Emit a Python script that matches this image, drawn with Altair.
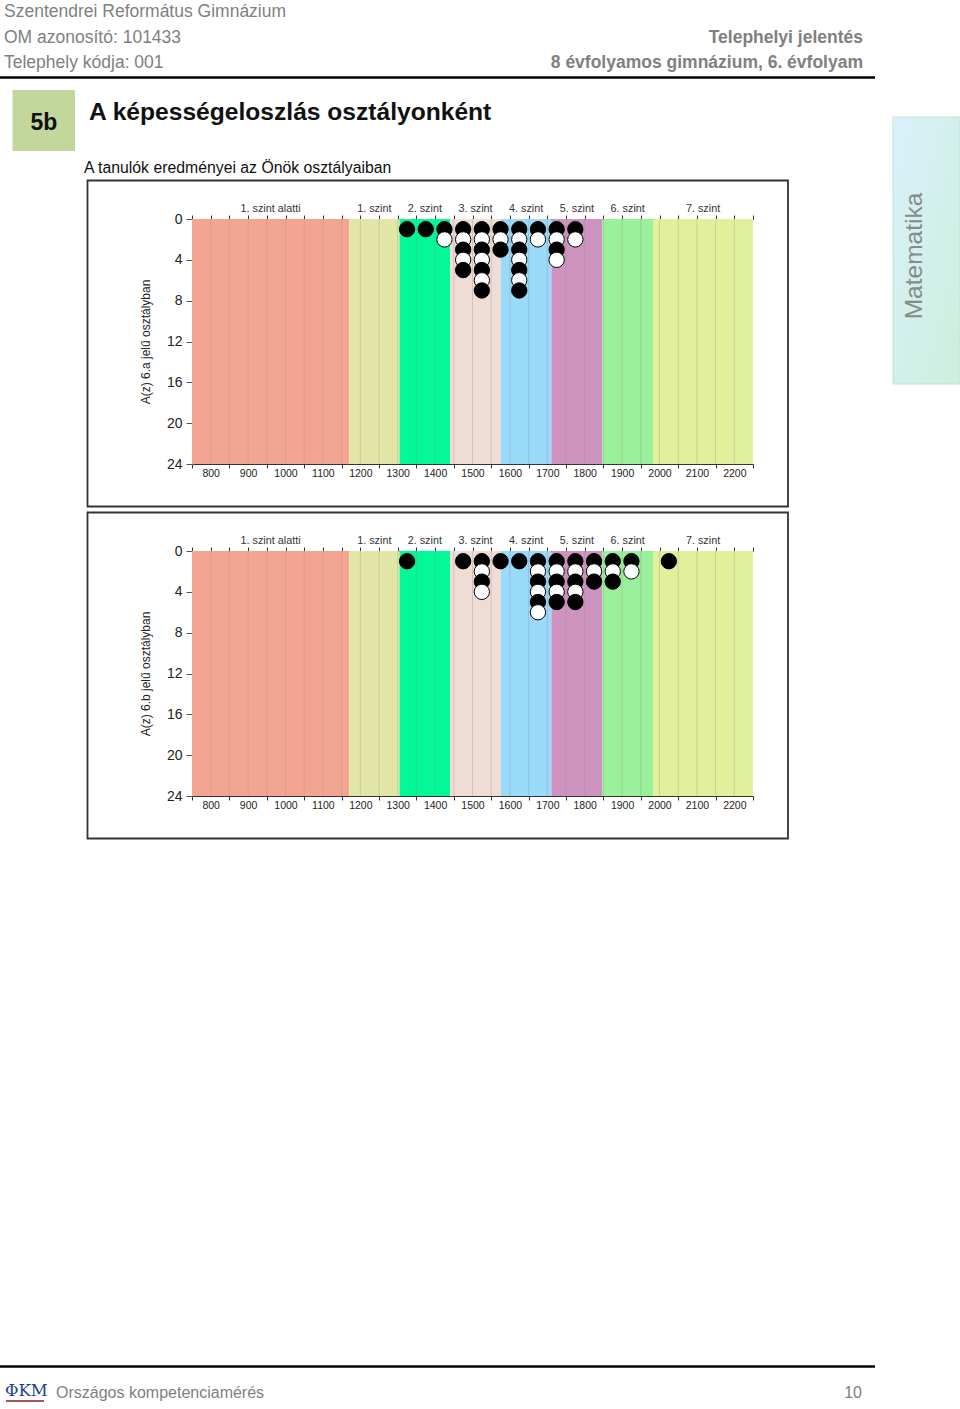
import altair as alt
import pandas as pd

FONT = "Liberation Sans"
W, H = 960, 1409

# ---------------- data ----------------
levels = ["1. szint alatti", "1. szint", "2. szint", "3. szint",
          "4. szint", "5. szint", "6. szint", "7. szint"]
level_start = [750, 1170, 1305, 1440, 1576, 1711, 1847, 1983]
level_end = [1170, 1305, 1440, 1576, 1711, 1847, 1983, 2250]
level_colors = ["#f4a592", "#e1e6a6", "#02f996", "#eedcd5",
                "#99d9f9", "#cf93bf", "#9af09b", "#e1f09b"]

x_labels = [800, 900, 1000, 1100, 1200, 1300, 1400, 1500,
            1600, 1700, 1800, 1900, 2000, 2100, 2200]
x_major_ticks = [750, 850, 950, 1050, 1150, 1250, 1350, 1450,
                 1550, 1650, 1750, 1850, 1950, 2050, 2150, 2250]
x_minor_ticks = list(range(750, 2251, 50))
grid_lines = list(range(800, 2201, 50))
y_labels = [0, 4, 8, 12, 16, 20, 24]

class_titles = ["A(z) 6.a jelű osztályban", "A(z) 6.b jelű osztályban"]
bins_a = [1325, 1375, 1425, 1475, 1525, 1575, 1625, 1675, 1725, 1775]
counts_a = [1, 1, 2, 5, 7, 3, 7, 2, 4, 2]
bins_b = [1325, 1475, 1525, 1575, 1625, 1675, 1725, 1775, 1825, 1875, 1925, 2025]
counts_b = [1, 1, 4, 1, 1, 6, 5, 5, 3, 3, 2, 1]

bands_df = pd.DataFrame({"level": levels, "start": level_start, "end": level_end})
grid_df = pd.DataFrame({"g": grid_lines})


def dot_rows(bins, counts):
    rows = []
    for k in range(1, max(counts) + 1):
        for b, c in zip(bins, counts):
            if k <= c:
                rows.append({"score": b, "n": k, "shade": "odd" if k % 2 else "even"})
    return pd.DataFrame(rows)


ONE = pd.DataFrame({"a": [1]})


def text(t, x, y, size, color="#222", weight="normal", align="left",
         baseline="alphabetic", angle=0, font=FONT):
    return alt.Chart(ONE).mark_text(
        text=t, fontSize=size, color=color, fontWeight=weight, align=align,
        baseline=baseline, angle=angle, font=font
    ).encode(x=alt.value(x), y=alt.value(y))


def rect(x, x2, y, y2, **kw):
    return alt.Chart(ONE).mark_rect(**kw).encode(
        x=alt.value(x), x2=alt.value(x2), y=alt.value(y), y2=alt.value(y2))


def hrule(x, x2, y, color="#000", width=2.0):
    return alt.Chart(ONE).mark_rule(color=color, strokeWidth=width).encode(
        x=alt.value(x), x2=alt.value(x2), y=alt.value(y))


X0, X1 = 192, 753


def panel(dy, title, bins, counts):
    top = 219 + dy
    bot = 464 + dy
    xs = alt.Scale(domain=[750, 2250], range=[X0, X1], nice=False, zero=False)
    ys = alt.Scale(domain=[0, 24], range=[top, bot], nice=False, zero=False)

    frame = rect(87.5, 788, top - 38.5, bot + 42.5,
                 fillOpacity=0, stroke="#333333", strokeWidth=1.8)

    bands = alt.Chart(bands_df).mark_rect().encode(
        x=alt.X("start:Q", scale=xs, axis=alt.Axis(
            orient="bottom", offset=bot - H, values=x_labels, ticks=False,
            tickSize=0, domain=False, grid=False, labelPadding=4,
            labelFontSize=10.5, labelColor="#222", labelFont=FONT,
            labelOverlap=False, labelFlush=False, format="d", title=None)),
        x2="end:Q",
        y=alt.value(top), y2=alt.value(bot),
        color=alt.Color("level:N", scale=alt.Scale(domain=levels, range=level_colors),
                        legend=None),
    )

    grid = alt.Chart(grid_df).mark_rule(color="#8c8c8c", opacity=0.3, strokeWidth=1).encode(
        x=alt.X("g:Q", scale=xs, axis=alt.Axis(
            orient="bottom", offset=bot - H, values=x_major_ticks, labels=False,
            tickSize=4, tickColor="#333", domain=True, domainColor="#333",
            grid=False, title=None)),
        y=alt.value(top), y2=alt.value(bot),
    )

    level_text = alt.Chart(bands_df).transform_calculate(
        mid="(datum.start + datum.end) / 2"
    ).mark_text(fontSize=10.8, font=FONT, color="#333", baseline="middle").encode(
        x=alt.X("mid:Q", scale=xs, axis=None),
        y=alt.value(top - 10),
        text="level:N",
    )

    dots = alt.Chart(dot_rows(bins, counts)).mark_circle(
        size=235, stroke="#000", strokeWidth=1, opacity=1
    ).encode(
        x=alt.X("score:Q", scale=xs, axis=alt.Axis(
            orient="top", offset=-top, values=x_minor_ticks, labels=False,
            tickSize=4, tickColor="#333", domain=True, domainColor="#333",
            grid=False, title=None)),
        y=alt.Y("n:Q", scale=ys, axis=alt.Axis(
            orient="left", offset=-X0, values=y_labels, tickSize=6,
            tickColor="#555", domain=True, domainColor="#888", grid=False,
            labelFontSize=14, labelFont=FONT, labelColor="#222", labelPadding=4,
            title=title, titleFont=FONT, titleFontSize=12, titleFontWeight="normal",
            titleColor="#222", titleAngle=270, titleAlign="center",
            titleBaseline="middle", titleX=145 - X0, titleY=(top + bot) / 2)),
        color=alt.Color("shade:N", scale=alt.Scale(domain=["odd", "even"],
                                                   range=["#000000", "#ffffff"]),
                        legend=None),
    )
    return [frame, bands, grid, level_text, dots]


GRAY = "#808080"
decor = [
    text("Szentendrei Református Gimnázium", 4, 17, 17.5, GRAY),
    text("OM azonosító: 101433", 4, 42.5, 17.5, GRAY),
    text("Telephely kódja: 001", 4, 68, 17.5, GRAY),
    text("Telephelyi jelentés", 863, 43, 17.5, GRAY, weight="bold", align="right"),
    text("8 évfolyamos gimnázium, 6. évfolyam", 863, 68, 17.5, GRAY,
         weight="bold", align="right"),
    hrule(0, 875, 77.5, width=2.5),
    rect(12.5, 75, 90, 151, color="#c3d69b"),
    text("5b", 44, 130, 23, "#111", weight="bold", align="center"),
    text("A képességeloszlás osztályonként", 89, 120, 24.6, "#111", weight="bold"),
    text("A tanulók eredményei az Önök osztályaiban", 84, 172.5, 15.8, "#111"),
    rect(893, 960, 117, 384,
         color=alt.LinearGradient(gradient="linear", x1=0, x2=1, y1=0, y2=1,
                                  stops=[alt.GradientStop(color="#d8f2fb", offset=0),
                                         alt.GradientStop(color="#cdeedc", offset=1)]),
         stroke="#c5e2d6", strokeWidth=1),
    text("Matematika", 915, 256, 24.5, "#8a8a8a", align="center",
         baseline="middle", angle=270),
    hrule(0, 875, 1366.5, width=2.5),
    text("ΦKM", 5, 1396, 16.5, "#23408e", font="DejaVu Serif"),
    hrule(6, 44, 1401, color="#8b1a2b", width=1.5),
    text("Országos kompetenciamérés", 56, 1397.5, 16, GRAY),
    text("10", 862, 1397.5, 16, GRAY, align="right"),
]

layers = decor + panel(0, class_titles[0], bins_a, counts_a) \
    + panel(332, class_titles[1], bins_b, counts_b)

chart = alt.layer(*layers).resolve_scale(
    x="independent", y="independent", color="independent"
).resolve_axis(x="independent", y="independent").properties(
    width=W, height=H, padding=0,
    autosize=alt.AutoSizeParams(type="none"),
    background="white",
).configure_view(stroke=None)

chart.save("out.html", embed_options={"renderer": "svg", "actions": False})
